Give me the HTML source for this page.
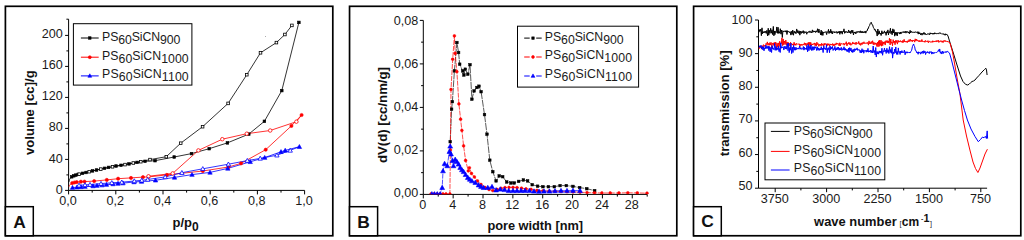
<!DOCTYPE html>
<html><head><meta charset="utf-8"><title>Figure</title>
<style>html,body{margin:0;padding:0;background:#fff;overflow:hidden}svg{display:block}text{font-family:'Liberation Sans', sans-serif}</style>
</head><body>
<svg width="1024" height="240" viewBox="0 0 1024 240">
<rect x="0" y="0" width="1024" height="240" fill="#fff"/>
<rect x="5.4" y="6.3" width="327.4" height="229.45" fill="#fff" stroke="#000" stroke-width="1.7"/>
<rect x="5.4" y="206.7" width="27.9" height="29.05" fill="#fff" stroke="#000" stroke-width="1.5"/>
<text x="19.5" y="227.5" font-size="17.4" text-anchor="middle" font-weight="bold" fill="#111" >A</text>
<line x1="68.6" y1="19.2" x2="68.6" y2="190.4" stroke="#000" stroke-width="1" />
<line x1="68.6" y1="190.4" x2="304.6" y2="190.4" stroke="#000" stroke-width="1" />
<line x1="65.1" y1="190.4" x2="68.6" y2="190.4" stroke="#000" stroke-width="1" />
<text x="62.7" y="193.72" font-size="12.6" text-anchor="end" font-weight="normal" fill="#1a1a1a" >0</text>
<line x1="66.4" y1="174.9" x2="68.6" y2="174.9" stroke="#000" stroke-width="1" />
<line x1="65.1" y1="159.4" x2="68.6" y2="159.4" stroke="#000" stroke-width="1" />
<text x="62.7" y="162.5" font-size="12.6" text-anchor="end" font-weight="normal" fill="#1a1a1a" >40</text>
<line x1="66.4" y1="143.9" x2="68.6" y2="143.9" stroke="#000" stroke-width="1" />
<line x1="65.1" y1="128.4" x2="68.6" y2="128.4" stroke="#000" stroke-width="1" />
<text x="62.7" y="131.27" font-size="12.6" text-anchor="end" font-weight="normal" fill="#1a1a1a" >80</text>
<line x1="66.4" y1="112.9" x2="68.6" y2="112.9" stroke="#000" stroke-width="1" />
<line x1="65.1" y1="97.4" x2="68.6" y2="97.4" stroke="#000" stroke-width="1" />
<text x="62.7" y="100.05" font-size="12.6" text-anchor="end" font-weight="normal" fill="#1a1a1a" >120</text>
<line x1="66.4" y1="81.9" x2="68.6" y2="81.9" stroke="#000" stroke-width="1" />
<line x1="65.1" y1="66.4" x2="68.6" y2="66.4" stroke="#000" stroke-width="1" />
<text x="62.7" y="68.82" font-size="12.6" text-anchor="end" font-weight="normal" fill="#1a1a1a" >160</text>
<line x1="66.4" y1="50.9" x2="68.6" y2="50.9" stroke="#000" stroke-width="1" />
<line x1="65.1" y1="35.4" x2="68.6" y2="35.4" stroke="#000" stroke-width="1" />
<text x="62.7" y="37.6" font-size="12.6" text-anchor="end" font-weight="normal" fill="#1a1a1a" >200</text>
<line x1="66.4" y1="19.2" x2="68.6" y2="19.2" stroke="#000" stroke-width="1" />
<line x1="68.6" y1="190.4" x2="68.6" y2="194.4" stroke="#000" stroke-width="1" />
<text x="68" y="204.7" font-size="12.6" text-anchor="middle" font-weight="normal" fill="#1a1a1a" >0,0</text>
<line x1="92.2" y1="190.4" x2="92.2" y2="192.6" stroke="#000" stroke-width="1" />
<line x1="115.8" y1="190.4" x2="115.8" y2="194.4" stroke="#000" stroke-width="1" />
<text x="115.2" y="204.7" font-size="12.6" text-anchor="middle" font-weight="normal" fill="#1a1a1a" >0,2</text>
<line x1="139.4" y1="190.4" x2="139.4" y2="192.6" stroke="#000" stroke-width="1" />
<line x1="163" y1="190.4" x2="163" y2="194.4" stroke="#000" stroke-width="1" />
<text x="162.4" y="204.7" font-size="12.6" text-anchor="middle" font-weight="normal" fill="#1a1a1a" >0,4</text>
<line x1="186.6" y1="190.4" x2="186.6" y2="192.6" stroke="#000" stroke-width="1" />
<line x1="210.2" y1="190.4" x2="210.2" y2="194.4" stroke="#000" stroke-width="1" />
<text x="209.6" y="204.7" font-size="12.6" text-anchor="middle" font-weight="normal" fill="#1a1a1a" >0,6</text>
<line x1="233.8" y1="190.4" x2="233.8" y2="192.6" stroke="#000" stroke-width="1" />
<line x1="257.4" y1="190.4" x2="257.4" y2="194.4" stroke="#000" stroke-width="1" />
<text x="256.8" y="204.7" font-size="12.6" text-anchor="middle" font-weight="normal" fill="#1a1a1a" >0,8</text>
<line x1="281" y1="190.4" x2="281" y2="192.6" stroke="#000" stroke-width="1" />
<line x1="304.6" y1="190.4" x2="304.6" y2="194.4" stroke="#000" stroke-width="1" />
<text x="304" y="204.7" font-size="12.6" text-anchor="middle" font-weight="normal" fill="#1a1a1a" >1,0</text>
<text x="172.5" y="226.7" font-size="13" font-weight="bold" fill="#111">p/p<tspan dy="3.9" font-size="12">0</tspan></text>
<text transform="translate(34.3,155.1) rotate(-90)" font-size="13.1" font-weight="bold" fill="#111" textLength="84.8" lengthAdjust="spacing">volume [cc]/g</text>
<polyline points="69,181.9 69.4,179.9 70.2,178.2 71.7,176.8 73.8,175.8 75.9,175.1 78.2,174.4 82.5,173.3 86,172.5 92.5,170.9 96.5,170 104.5,168.3 108.5,167.4 116,166 121,165.3 129,163.9 137,162.4 145,161.3 155,160.7 174.2,157 191.5,153.6 209.2,148.7 227.4,142.9 248.8,134.1 264.4,121.3 281.8,90.6 298.9,22.4" fill="none" stroke="#000" stroke-width="0.8" stroke-linejoin="round" />
<polyline points="291.9,25.4 284.9,34.5 276.4,42.6 260.5,52.8 246.8,74.7 228.1,103.4 202.6,126.7 180.7,143.2 166.3,156.7 150,159.6 140.8,161.7 133.3,163 125,164.6 112.5,166.8 100.8,169.1 89.2,171.7 79.2,174.2" fill="none" stroke="#000" stroke-width="0.8" stroke-linejoin="round" />
<polyline points="69,186.7 69.6,185.3 70.6,184.1 72.2,183.1 74.5,182.5 76.7,182.1 80.9,181.7 84.5,181.6 94.2,181.1 106.8,179.9 118.1,178.7 131,177.9 143,177.1 148.5,176.9 166.9,174.9 202.8,171.03 228.4,167 241,163.4 265.7,149.7 291.4,125.9 301.6,115" fill="none" stroke="#ff0000" stroke-width="0.8" stroke-linejoin="round" />
<polyline points="301.6,115 296.4,121.7 270.2,130.5 246.8,133.7 222.3,139.2 198.4,150.4 172.7,173.4 148.5,176.27" fill="none" stroke="#ff0000" stroke-width="0.8" stroke-linejoin="round" />
<polyline points="72.5,187.6 77,187.2 81,186.9 85,186.6 93,186 97,185.6 102,185.1 106.5,184.6 113,184 118,183.5 123,183.1 134,182 141.5,181.5 155.5,180.26 174.5,177.39 192,174.6 210,172.4 227.8,168.4 250.2,161.8 264.7,157.6 281,151.8 285.2,150.4 299.4,146.7" fill="none" stroke="#0000ff" stroke-width="0.8" stroke-linejoin="round" />
<polyline points="299.4,146.7 290.2,150.4 276.9,155.2 260.2,158.4 247.3,160.6 228.4,164.2 202.8,168.8 181.9,172.7 165.2,176.92 147.7,179.5 141.8,180.3 134.3,181 121.8,182.2 111.8,182.8 101,183.6 90,184.6 85,184.9 79,185.3" fill="none" stroke="#0000ff" stroke-width="0.8" stroke-linejoin="round" />
<rect x="70.4" y="175.5" width="2.6" height="2.6" fill="#000" stroke="#000" stroke-width="0.6"/>
<rect x="72.5" y="174.5" width="2.6" height="2.6" fill="#000" stroke="#000" stroke-width="0.6"/>
<rect x="74.6" y="173.8" width="2.6" height="2.6" fill="#000" stroke="#000" stroke-width="0.6"/>
<rect x="76.9" y="173.1" width="2.6" height="2.6" fill="#000" stroke="#000" stroke-width="0.6"/>
<rect x="81.2" y="172" width="2.6" height="2.6" fill="#000" stroke="#000" stroke-width="0.6"/>
<rect x="84.7" y="171.2" width="2.6" height="2.6" fill="#000" stroke="#000" stroke-width="0.6"/>
<rect x="91.2" y="169.6" width="2.6" height="2.6" fill="#000" stroke="#000" stroke-width="0.6"/>
<rect x="95.2" y="168.7" width="2.6" height="2.6" fill="#000" stroke="#000" stroke-width="0.6"/>
<rect x="103.2" y="167" width="2.6" height="2.6" fill="#000" stroke="#000" stroke-width="0.6"/>
<rect x="107.2" y="166.1" width="2.6" height="2.6" fill="#000" stroke="#000" stroke-width="0.6"/>
<rect x="114.7" y="164.7" width="2.6" height="2.6" fill="#000" stroke="#000" stroke-width="0.6"/>
<rect x="119.7" y="164" width="2.6" height="2.6" fill="#000" stroke="#000" stroke-width="0.6"/>
<rect x="127.7" y="162.6" width="2.6" height="2.6" fill="#000" stroke="#000" stroke-width="0.6"/>
<rect x="135.7" y="161.1" width="2.6" height="2.6" fill="#000" stroke="#000" stroke-width="0.6"/>
<rect x="143.7" y="160" width="2.6" height="2.6" fill="#000" stroke="#000" stroke-width="0.6"/>
<rect x="153.7" y="159.4" width="2.6" height="2.6" fill="#000" stroke="#000" stroke-width="0.6"/>
<rect x="172.9" y="155.7" width="2.6" height="2.6" fill="#000" stroke="#000" stroke-width="0.6"/>
<rect x="190.2" y="152.3" width="2.6" height="2.6" fill="#000" stroke="#000" stroke-width="0.6"/>
<rect x="207.9" y="147.4" width="2.6" height="2.6" fill="#000" stroke="#000" stroke-width="0.6"/>
<rect x="226.1" y="141.6" width="2.6" height="2.6" fill="#000" stroke="#000" stroke-width="0.6"/>
<rect x="247.5" y="132.8" width="2.6" height="2.6" fill="#000" stroke="#000" stroke-width="0.6"/>
<rect x="263.1" y="120" width="2.6" height="2.6" fill="#000" stroke="#000" stroke-width="0.6"/>
<rect x="280.5" y="89.3" width="2.6" height="2.6" fill="#000" stroke="#000" stroke-width="0.6"/>
<rect x="297.6" y="21.1" width="2.6" height="2.6" fill="#000" stroke="#000" stroke-width="0.6"/>
<rect x="290.6" y="24.1" width="2.6" height="2.6" fill="#fff" stroke="#000" stroke-width="0.8"/>
<rect x="283.6" y="33.2" width="2.6" height="2.6" fill="#fff" stroke="#000" stroke-width="0.8"/>
<rect x="275.1" y="41.3" width="2.6" height="2.6" fill="#fff" stroke="#000" stroke-width="0.8"/>
<rect x="259.2" y="51.5" width="2.6" height="2.6" fill="#fff" stroke="#000" stroke-width="0.8"/>
<rect x="245.5" y="73.4" width="2.6" height="2.6" fill="#fff" stroke="#000" stroke-width="0.8"/>
<rect x="226.8" y="102.1" width="2.6" height="2.6" fill="#fff" stroke="#000" stroke-width="0.8"/>
<rect x="201.3" y="125.4" width="2.6" height="2.6" fill="#fff" stroke="#000" stroke-width="0.8"/>
<rect x="179.4" y="141.9" width="2.6" height="2.6" fill="#fff" stroke="#000" stroke-width="0.8"/>
<rect x="165" y="155.4" width="2.6" height="2.6" fill="#fff" stroke="#000" stroke-width="0.8"/>
<rect x="148.7" y="158.3" width="2.6" height="2.6" fill="#fff" stroke="#000" stroke-width="0.8"/>
<rect x="139.5" y="160.4" width="2.6" height="2.6" fill="#fff" stroke="#000" stroke-width="0.8"/>
<rect x="132" y="161.7" width="2.6" height="2.6" fill="#fff" stroke="#000" stroke-width="0.8"/>
<rect x="123.7" y="163.3" width="2.6" height="2.6" fill="#fff" stroke="#000" stroke-width="0.8"/>
<rect x="111.2" y="165.5" width="2.6" height="2.6" fill="#fff" stroke="#000" stroke-width="0.8"/>
<rect x="99.5" y="167.8" width="2.6" height="2.6" fill="#fff" stroke="#000" stroke-width="0.8"/>
<rect x="87.9" y="170.4" width="2.6" height="2.6" fill="#fff" stroke="#000" stroke-width="0.8"/>
<rect x="77.9" y="172.9" width="2.6" height="2.6" fill="#fff" stroke="#000" stroke-width="0.8"/>
<circle cx="72.2" cy="183.1" r="1.6" fill="#ff0000" stroke="#ff0000" stroke-width="0.6"/>
<circle cx="74.5" cy="182.5" r="1.6" fill="#ff0000" stroke="#ff0000" stroke-width="0.6"/>
<circle cx="76.7" cy="182.1" r="1.6" fill="#ff0000" stroke="#ff0000" stroke-width="0.6"/>
<circle cx="80.9" cy="181.7" r="1.6" fill="#ff0000" stroke="#ff0000" stroke-width="0.6"/>
<circle cx="84.5" cy="181.6" r="1.6" fill="#ff0000" stroke="#ff0000" stroke-width="0.6"/>
<circle cx="94.2" cy="181.1" r="1.6" fill="#ff0000" stroke="#ff0000" stroke-width="0.6"/>
<circle cx="106.8" cy="179.9" r="1.6" fill="#ff0000" stroke="#ff0000" stroke-width="0.6"/>
<circle cx="118.1" cy="178.7" r="1.6" fill="#ff0000" stroke="#ff0000" stroke-width="0.6"/>
<circle cx="131" cy="177.9" r="1.6" fill="#ff0000" stroke="#ff0000" stroke-width="0.6"/>
<circle cx="143" cy="177.1" r="1.6" fill="#ff0000" stroke="#ff0000" stroke-width="0.6"/>
<circle cx="148.5" cy="176.9" r="1.6" fill="#ff0000" stroke="#ff0000" stroke-width="0.6"/>
<circle cx="166.9" cy="174.9" r="1.6" fill="#ff0000" stroke="#ff0000" stroke-width="0.6"/>
<circle cx="202.8" cy="171.03" r="1.6" fill="#ff0000" stroke="#ff0000" stroke-width="0.6"/>
<circle cx="228.4" cy="167" r="1.6" fill="#ff0000" stroke="#ff0000" stroke-width="0.6"/>
<circle cx="241" cy="163.4" r="1.6" fill="#ff0000" stroke="#ff0000" stroke-width="0.6"/>
<circle cx="265.7" cy="149.7" r="1.6" fill="#ff0000" stroke="#ff0000" stroke-width="0.6"/>
<circle cx="291.4" cy="125.9" r="1.6" fill="#ff0000" stroke="#ff0000" stroke-width="0.6"/>
<circle cx="301.6" cy="115" r="1.6" fill="#ff0000" stroke="#ff0000" stroke-width="0.6"/>
<circle cx="296.4" cy="121.7" r="1.75" fill="#fff" stroke="#ff0000" stroke-width="0.8"/>
<circle cx="270.2" cy="130.5" r="1.75" fill="#fff" stroke="#ff0000" stroke-width="0.8"/>
<circle cx="246.8" cy="133.7" r="1.75" fill="#fff" stroke="#ff0000" stroke-width="0.8"/>
<circle cx="222.3" cy="139.2" r="1.75" fill="#fff" stroke="#ff0000" stroke-width="0.8"/>
<circle cx="198.4" cy="150.4" r="1.75" fill="#fff" stroke="#ff0000" stroke-width="0.8"/>
<circle cx="172.7" cy="173.4" r="1.75" fill="#fff" stroke="#ff0000" stroke-width="0.8"/>
<circle cx="148.5" cy="176.27" r="1.75" fill="#fff" stroke="#ff0000" stroke-width="0.8"/>
<polygon points="72.5,185.4 70.3,189.36 74.7,189.36" fill="#0000ff" stroke="#0000ff" stroke-width="0.6"/>
<polygon points="77,185 74.8,188.96 79.2,188.96" fill="#0000ff" stroke="#0000ff" stroke-width="0.6"/>
<polygon points="81,184.7 78.8,188.66 83.2,188.66" fill="#0000ff" stroke="#0000ff" stroke-width="0.6"/>
<polygon points="85,184.4 82.8,188.36 87.2,188.36" fill="#0000ff" stroke="#0000ff" stroke-width="0.6"/>
<polygon points="93,183.8 90.8,187.76 95.2,187.76" fill="#0000ff" stroke="#0000ff" stroke-width="0.6"/>
<polygon points="97,183.4 94.8,187.36 99.2,187.36" fill="#0000ff" stroke="#0000ff" stroke-width="0.6"/>
<polygon points="102,182.9 99.8,186.86 104.2,186.86" fill="#0000ff" stroke="#0000ff" stroke-width="0.6"/>
<polygon points="106.5,182.4 104.3,186.36 108.7,186.36" fill="#0000ff" stroke="#0000ff" stroke-width="0.6"/>
<polygon points="113,181.8 110.8,185.76 115.2,185.76" fill="#0000ff" stroke="#0000ff" stroke-width="0.6"/>
<polygon points="118,181.3 115.8,185.26 120.2,185.26" fill="#0000ff" stroke="#0000ff" stroke-width="0.6"/>
<polygon points="123,180.9 120.8,184.86 125.2,184.86" fill="#0000ff" stroke="#0000ff" stroke-width="0.6"/>
<polygon points="134,179.8 131.8,183.76 136.2,183.76" fill="#0000ff" stroke="#0000ff" stroke-width="0.6"/>
<polygon points="141.5,179.3 139.3,183.26 143.7,183.26" fill="#0000ff" stroke="#0000ff" stroke-width="0.6"/>
<polygon points="155.5,178.06 153.3,182.02 157.7,182.02" fill="#0000ff" stroke="#0000ff" stroke-width="0.6"/>
<polygon points="174.5,175.19 172.3,179.15 176.7,179.15" fill="#0000ff" stroke="#0000ff" stroke-width="0.6"/>
<polygon points="192,172.4 189.8,176.36 194.2,176.36" fill="#0000ff" stroke="#0000ff" stroke-width="0.6"/>
<polygon points="210,170.2 207.8,174.16 212.2,174.16" fill="#0000ff" stroke="#0000ff" stroke-width="0.6"/>
<polygon points="227.8,166.2 225.6,170.16 230,170.16" fill="#0000ff" stroke="#0000ff" stroke-width="0.6"/>
<polygon points="250.2,159.6 248,163.56 252.4,163.56" fill="#0000ff" stroke="#0000ff" stroke-width="0.6"/>
<polygon points="264.7,155.4 262.5,159.36 266.9,159.36" fill="#0000ff" stroke="#0000ff" stroke-width="0.6"/>
<polygon points="281,149.6 278.8,153.56 283.2,153.56" fill="#0000ff" stroke="#0000ff" stroke-width="0.6"/>
<polygon points="285.2,148.2 283,152.16 287.4,152.16" fill="#0000ff" stroke="#0000ff" stroke-width="0.6"/>
<polygon points="299.4,144.5 297.2,148.46 301.6,148.46" fill="#0000ff" stroke="#0000ff" stroke-width="0.6"/>
<polygon points="290.2,148.2 288,152.16 292.4,152.16" fill="#fff" stroke="#0000ff" stroke-width="0.8"/>
<polygon points="276.9,153 274.7,156.96 279.1,156.96" fill="#fff" stroke="#0000ff" stroke-width="0.8"/>
<polygon points="260.2,156.2 258,160.16 262.4,160.16" fill="#fff" stroke="#0000ff" stroke-width="0.8"/>
<polygon points="247.3,158.4 245.1,162.36 249.5,162.36" fill="#fff" stroke="#0000ff" stroke-width="0.8"/>
<polygon points="228.4,162 226.2,165.96 230.6,165.96" fill="#fff" stroke="#0000ff" stroke-width="0.8"/>
<polygon points="202.8,166.6 200.6,170.56 205,170.56" fill="#fff" stroke="#0000ff" stroke-width="0.8"/>
<polygon points="181.9,170.5 179.7,174.46 184.1,174.46" fill="#fff" stroke="#0000ff" stroke-width="0.8"/>
<polygon points="165.2,174.72 163,178.68 167.4,178.68" fill="#fff" stroke="#0000ff" stroke-width="0.8"/>
<polygon points="147.7,177.3 145.5,181.26 149.9,181.26" fill="#fff" stroke="#0000ff" stroke-width="0.8"/>
<polygon points="141.8,178.1 139.6,182.06 144,182.06" fill="#fff" stroke="#0000ff" stroke-width="0.8"/>
<polygon points="134.3,178.8 132.1,182.76 136.5,182.76" fill="#fff" stroke="#0000ff" stroke-width="0.8"/>
<polygon points="121.8,180 119.6,183.96 124,183.96" fill="#fff" stroke="#0000ff" stroke-width="0.8"/>
<polygon points="111.8,180.6 109.6,184.56 114,184.56" fill="#fff" stroke="#0000ff" stroke-width="0.8"/>
<polygon points="101,181.4 98.8,185.36 103.2,185.36" fill="#fff" stroke="#0000ff" stroke-width="0.8"/>
<polygon points="90,182.4 87.8,186.36 92.2,186.36" fill="#fff" stroke="#0000ff" stroke-width="0.8"/>
<polygon points="85,182.7 82.8,186.66 87.2,186.66" fill="#fff" stroke="#0000ff" stroke-width="0.8"/>
<polygon points="79,183.1 76.8,187.06 81.2,187.06" fill="#fff" stroke="#0000ff" stroke-width="0.8"/>
<rect x="265" y="36" width="0.9" height="0.9" fill="#999"/>
<rect x="73.4" y="23.7" width="118.5" height="61.4" fill="#fff" stroke="#000" stroke-width="1"/>
<line x1="80.9" y1="38" x2="98.7" y2="38" stroke="#000" stroke-width="1" />
<rect x="88.55" y="36.75" width="2.5" height="2.5" fill="#000" stroke="#000" stroke-width="0.6"/>
<text x="102.1" y="40.7" font-size="12.3" fill="#1a1a1a" textLength="78.2" lengthAdjust="spacing">PS<tspan dy="3.1">60</tspan><tspan dy="-3.1">SiCN</tspan><tspan dy="3.1">900</tspan></text>
<line x1="80.9" y1="57.2" x2="98.7" y2="57.2" stroke="#ff0000" stroke-width="1" />
<circle cx="89.8" cy="57.2" r="1.5" fill="#ff0000" stroke="#ff0000" stroke-width="0.6"/>
<text x="102.1" y="59.9" font-size="12.3" fill="#1a1a1a" textLength="86.6" lengthAdjust="spacing">PS<tspan dy="3.1">60</tspan><tspan dy="-3.1">SiCN</tspan><tspan dy="3.1">1000</tspan></text>
<line x1="80.9" y1="75.9" x2="98.7" y2="75.9" stroke="#0000ff" stroke-width="1" />
<polygon points="89.8,73.8 87.9,77.22 91.7,77.22" fill="#0000ff" stroke="#0000ff" stroke-width="0.6"/>
<text x="102.1" y="78.3" font-size="12.3" fill="#1a1a1a" textLength="86.6" lengthAdjust="spacing">PS<tspan dy="3.1">60</tspan><tspan dy="-3.1">SiCN</tspan><tspan dy="3.1">1100</tspan></text>
<rect x="349.55" y="6.3" width="327.25" height="229.45" fill="#fff" stroke="#000" stroke-width="1.7"/>
<rect x="349.55" y="206.7" width="28.05" height="29.05" fill="#fff" stroke="#000" stroke-width="1.5"/>
<text x="363.6" y="227.5" font-size="17.4" text-anchor="middle" font-weight="bold" fill="#111" >B</text>
<line x1="423.3" y1="20.4" x2="423.3" y2="194.4" stroke="#000" stroke-width="1" />
<line x1="423.3" y1="194.4" x2="647.3" y2="194.4" stroke="#000" stroke-width="1" />
<line x1="419.8" y1="194.4" x2="423.3" y2="194.4" stroke="#000" stroke-width="1" />
<text x="418.3" y="196.7" font-size="12.6" text-anchor="end" font-weight="normal" fill="#1a1a1a" >0,00</text>
<line x1="421.1" y1="172.65" x2="423.3" y2="172.65" stroke="#000" stroke-width="1" />
<line x1="419.8" y1="150.9" x2="423.3" y2="150.9" stroke="#000" stroke-width="1" />
<text x="418.3" y="153.65" font-size="12.6" text-anchor="end" font-weight="normal" fill="#1a1a1a" >0,02</text>
<line x1="421.1" y1="129.15" x2="423.3" y2="129.15" stroke="#000" stroke-width="1" />
<line x1="419.8" y1="107.4" x2="423.3" y2="107.4" stroke="#000" stroke-width="1" />
<text x="418.3" y="110.6" font-size="12.6" text-anchor="end" font-weight="normal" fill="#1a1a1a" >0,04</text>
<line x1="421.1" y1="85.65" x2="423.3" y2="85.65" stroke="#000" stroke-width="1" />
<line x1="419.8" y1="63.9" x2="423.3" y2="63.9" stroke="#000" stroke-width="1" />
<text x="418.3" y="67.55" font-size="12.6" text-anchor="end" font-weight="normal" fill="#1a1a1a" >0,06</text>
<line x1="421.1" y1="42.15" x2="423.3" y2="42.15" stroke="#000" stroke-width="1" />
<line x1="419.8" y1="20.4" x2="423.3" y2="20.4" stroke="#000" stroke-width="1" />
<text x="418.3" y="24.5" font-size="12.6" text-anchor="end" font-weight="normal" fill="#1a1a1a" >0,08</text>
<line x1="423.3" y1="194.4" x2="423.3" y2="198.4" stroke="#000" stroke-width="1" />
<text x="422.8" y="208.7" font-size="12.6" text-anchor="middle" font-weight="normal" fill="#1a1a1a" >0</text>
<line x1="438.23" y1="194.4" x2="438.23" y2="196.6" stroke="#000" stroke-width="1" />
<line x1="453.15" y1="194.4" x2="453.15" y2="198.4" stroke="#000" stroke-width="1" />
<text x="452.65" y="208.7" font-size="12.6" text-anchor="middle" font-weight="normal" fill="#1a1a1a" >4</text>
<line x1="468.08" y1="194.4" x2="468.08" y2="196.6" stroke="#000" stroke-width="1" />
<line x1="483" y1="194.4" x2="483" y2="198.4" stroke="#000" stroke-width="1" />
<text x="482.5" y="208.7" font-size="12.6" text-anchor="middle" font-weight="normal" fill="#1a1a1a" >8</text>
<line x1="497.93" y1="194.4" x2="497.93" y2="196.6" stroke="#000" stroke-width="1" />
<line x1="512.86" y1="194.4" x2="512.86" y2="198.4" stroke="#000" stroke-width="1" />
<text x="512.36" y="208.7" font-size="12.6" text-anchor="middle" font-weight="normal" fill="#1a1a1a" >12</text>
<line x1="527.78" y1="194.4" x2="527.78" y2="196.6" stroke="#000" stroke-width="1" />
<line x1="542.71" y1="194.4" x2="542.71" y2="198.4" stroke="#000" stroke-width="1" />
<text x="542.21" y="208.7" font-size="12.6" text-anchor="middle" font-weight="normal" fill="#1a1a1a" >16</text>
<line x1="557.63" y1="194.4" x2="557.63" y2="196.6" stroke="#000" stroke-width="1" />
<line x1="572.56" y1="194.4" x2="572.56" y2="198.4" stroke="#000" stroke-width="1" />
<text x="572.06" y="208.7" font-size="12.6" text-anchor="middle" font-weight="normal" fill="#1a1a1a" >20</text>
<line x1="587.49" y1="194.4" x2="587.49" y2="196.6" stroke="#000" stroke-width="1" />
<line x1="602.41" y1="194.4" x2="602.41" y2="198.4" stroke="#000" stroke-width="1" />
<text x="601.91" y="208.7" font-size="12.6" text-anchor="middle" font-weight="normal" fill="#1a1a1a" >24</text>
<line x1="617.34" y1="194.4" x2="617.34" y2="196.6" stroke="#000" stroke-width="1" />
<line x1="632.26" y1="194.4" x2="632.26" y2="198.4" stroke="#000" stroke-width="1" />
<text x="631.76" y="208.7" font-size="12.6" text-anchor="middle" font-weight="normal" fill="#1a1a1a" >28</text>
<line x1="647.19" y1="194.4" x2="647.19" y2="196.6" stroke="#000" stroke-width="1" />
<text x="487.4" y="229.8" font-size="12.8" font-weight="bold" fill="#111" textLength="95.7" lengthAdjust="spacing">pore width [nm]</text>
<text transform="translate(387.3,163) rotate(-90)" font-size="13.2" font-weight="bold" fill="#111" textLength="96" lengthAdjust="spacing">dV(d) [cc/nm/g]</text>
<clipPath id="clipB"><rect x="423.3" y="10" width="230" height="184.3"/></clipPath><g clip-path="url(#clipB)">
<polyline points="450.2,141.7 451.6,109.2 452.4,101.7 454.4,70.9 456.9,42.5 458.6,52.5 459.7,64.2 462.7,70.9 463.9,75 465.3,69.2 467.8,74.2 470,64.7 471.9,99.2 474.1,90.9 477,87.5 479,86.2 481.1,91.7 484.5,114.6 487,134.2 489.8,160.2 492.8,171.7 496.1,180.9 499.2,175.9 502.7,176.7 506.7,182 510.9,183 514.2,183 518.7,181.4 523.4,180 527.6,180.9 532.2,184.7 537.6,186.2 542.9,186.7 548.4,186.7 554.3,186.7 560.1,185.6 566.3,185.6 573,186.4 579.7,187.6 586.8,188.7 594.7,190.6" fill="none" stroke="#111" stroke-width="0.7" stroke-linejoin="round" stroke-dasharray="7 0.8"/>
<polyline points="431,194 434,194 437,194 440,194 443,194 446,194 449.9,194 450.4,150 451,89.5 452.7,59.2 454.4,35.9 455.2,53.4 456.9,71.7 458.9,103.9 460.6,119.2 461.9,130.4 463.6,145.9 465.6,160.5 468.3,170.9 469.4,167.8 471.5,173.5 474.4,177 477.5,181 481,184.5 485,187.5 489,189.5 492.8,190.6 497,189.5 501,188.3 505,187.6 509,187.4 513,187.4 517,187.6 521.5,188.2 526,188.8 531,189.4 537,190.4 543,190.8 549,191.2 555,191.3 561,191.5 567,191.7 573,191.9 580,192.2 587,192.6 594.5,192.8 601.9,193 610.2,193 618.9,193 627.8,192.8 637.3,192.9 647,193.2" fill="none" stroke="#ff0000" stroke-width="0.7" stroke-linejoin="round" stroke-dasharray="5 1"/>
<polyline points="431.9,194 434.5,194 437.3,194 440.2,194 442.2,187.6 443,170.9 444.6,163.6 447.3,165.8 449.4,151.5 450.2,146.2 451,154 452.5,160.6 453.5,165.8 455.2,159.4 456.9,161.7 458.6,164.2 460.2,167.5 461.9,169.8 463.6,171.7 465.6,174.6 467.8,177.5 469.8,179.3 471.9,180.9 475.3,182.5 478.6,185 481,186.5 483.6,187.6 487.8,187.6 492,186.7 496.1,190 500.3,189.2 504.5,189.7 508.7,190.7 513,190.7 517,190.7 521,190.5 525,190.5 529.5,190.7 534,191.2 539,191.4 544,191.2 549.5,191.2 555,190.8 561,190.7 567,190.7 573,190.5 580,190.7" fill="none" stroke="#0000ff" stroke-width="0.7" stroke-linejoin="round" stroke-dasharray="5 1"/>
<rect x="448.9" y="140.4" width="2.6" height="2.6" fill="#000" stroke="#000" stroke-width="0.5"/>
<rect x="450.3" y="107.9" width="2.6" height="2.6" fill="#000" stroke="#000" stroke-width="0.5"/>
<rect x="451.1" y="100.4" width="2.6" height="2.6" fill="#000" stroke="#000" stroke-width="0.5"/>
<rect x="453.1" y="69.6" width="2.6" height="2.6" fill="#000" stroke="#000" stroke-width="0.5"/>
<rect x="455.6" y="41.2" width="2.6" height="2.6" fill="#000" stroke="#000" stroke-width="0.5"/>
<rect x="457.3" y="51.2" width="2.6" height="2.6" fill="#000" stroke="#000" stroke-width="0.5"/>
<rect x="458.4" y="62.9" width="2.6" height="2.6" fill="#000" stroke="#000" stroke-width="0.5"/>
<rect x="461.4" y="69.6" width="2.6" height="2.6" fill="#000" stroke="#000" stroke-width="0.5"/>
<rect x="462.6" y="73.7" width="2.6" height="2.6" fill="#000" stroke="#000" stroke-width="0.5"/>
<rect x="464" y="67.9" width="2.6" height="2.6" fill="#000" stroke="#000" stroke-width="0.5"/>
<rect x="466.5" y="72.9" width="2.6" height="2.6" fill="#000" stroke="#000" stroke-width="0.5"/>
<rect x="468.7" y="63.4" width="2.6" height="2.6" fill="#000" stroke="#000" stroke-width="0.5"/>
<rect x="470.6" y="97.9" width="2.6" height="2.6" fill="#000" stroke="#000" stroke-width="0.5"/>
<rect x="472.8" y="89.6" width="2.6" height="2.6" fill="#000" stroke="#000" stroke-width="0.5"/>
<rect x="475.7" y="86.2" width="2.6" height="2.6" fill="#000" stroke="#000" stroke-width="0.5"/>
<rect x="477.7" y="84.9" width="2.6" height="2.6" fill="#000" stroke="#000" stroke-width="0.5"/>
<rect x="479.8" y="90.4" width="2.6" height="2.6" fill="#000" stroke="#000" stroke-width="0.5"/>
<rect x="483.2" y="113.3" width="2.6" height="2.6" fill="#000" stroke="#000" stroke-width="0.5"/>
<rect x="485.7" y="132.9" width="2.6" height="2.6" fill="#000" stroke="#000" stroke-width="0.5"/>
<rect x="488.5" y="158.9" width="2.6" height="2.6" fill="#000" stroke="#000" stroke-width="0.5"/>
<rect x="491.5" y="170.4" width="2.6" height="2.6" fill="#000" stroke="#000" stroke-width="0.5"/>
<rect x="494.8" y="179.6" width="2.6" height="2.6" fill="#000" stroke="#000" stroke-width="0.5"/>
<rect x="497.9" y="174.6" width="2.6" height="2.6" fill="#000" stroke="#000" stroke-width="0.5"/>
<rect x="501.4" y="175.4" width="2.6" height="2.6" fill="#000" stroke="#000" stroke-width="0.5"/>
<rect x="505.4" y="180.7" width="2.6" height="2.6" fill="#000" stroke="#000" stroke-width="0.5"/>
<rect x="509.6" y="181.7" width="2.6" height="2.6" fill="#000" stroke="#000" stroke-width="0.5"/>
<rect x="512.9" y="181.7" width="2.6" height="2.6" fill="#000" stroke="#000" stroke-width="0.5"/>
<rect x="517.4" y="180.1" width="2.6" height="2.6" fill="#000" stroke="#000" stroke-width="0.5"/>
<rect x="522.1" y="178.7" width="2.6" height="2.6" fill="#000" stroke="#000" stroke-width="0.5"/>
<rect x="526.3" y="179.6" width="2.6" height="2.6" fill="#000" stroke="#000" stroke-width="0.5"/>
<rect x="530.9" y="183.4" width="2.6" height="2.6" fill="#000" stroke="#000" stroke-width="0.5"/>
<rect x="536.3" y="184.9" width="2.6" height="2.6" fill="#000" stroke="#000" stroke-width="0.5"/>
<rect x="541.6" y="185.4" width="2.6" height="2.6" fill="#000" stroke="#000" stroke-width="0.5"/>
<rect x="547.1" y="185.4" width="2.6" height="2.6" fill="#000" stroke="#000" stroke-width="0.5"/>
<rect x="553" y="185.4" width="2.6" height="2.6" fill="#000" stroke="#000" stroke-width="0.5"/>
<rect x="558.8" y="184.3" width="2.6" height="2.6" fill="#000" stroke="#000" stroke-width="0.5"/>
<rect x="565" y="184.3" width="2.6" height="2.6" fill="#000" stroke="#000" stroke-width="0.5"/>
<rect x="571.7" y="185.1" width="2.6" height="2.6" fill="#000" stroke="#000" stroke-width="0.5"/>
<rect x="578.4" y="186.3" width="2.6" height="2.6" fill="#000" stroke="#000" stroke-width="0.5"/>
<rect x="585.5" y="187.4" width="2.6" height="2.6" fill="#000" stroke="#000" stroke-width="0.5"/>
<rect x="593.4" y="189.3" width="2.6" height="2.6" fill="#000" stroke="#000" stroke-width="0.5"/>
<circle cx="431" cy="194" r="1.4" fill="#ff0000" stroke="#ff0000" stroke-width="0.5"/>
<circle cx="434" cy="194" r="1.4" fill="#ff0000" stroke="#ff0000" stroke-width="0.5"/>
<circle cx="437" cy="194" r="1.4" fill="#ff0000" stroke="#ff0000" stroke-width="0.5"/>
<circle cx="440" cy="194" r="1.4" fill="#ff0000" stroke="#ff0000" stroke-width="0.5"/>
<circle cx="443" cy="194" r="1.4" fill="#ff0000" stroke="#ff0000" stroke-width="0.5"/>
<circle cx="446" cy="194" r="1.4" fill="#ff0000" stroke="#ff0000" stroke-width="0.5"/>
<circle cx="449.9" cy="194" r="1.4" fill="#ff0000" stroke="#ff0000" stroke-width="0.5"/>
<circle cx="450.4" cy="150" r="1.4" fill="#ff0000" stroke="#ff0000" stroke-width="0.5"/>
<circle cx="451" cy="89.5" r="1.4" fill="#ff0000" stroke="#ff0000" stroke-width="0.5"/>
<circle cx="452.7" cy="59.2" r="1.4" fill="#ff0000" stroke="#ff0000" stroke-width="0.5"/>
<circle cx="454.4" cy="35.9" r="1.4" fill="#ff0000" stroke="#ff0000" stroke-width="0.5"/>
<circle cx="455.2" cy="53.4" r="1.4" fill="#ff0000" stroke="#ff0000" stroke-width="0.5"/>
<circle cx="456.9" cy="71.7" r="1.4" fill="#ff0000" stroke="#ff0000" stroke-width="0.5"/>
<circle cx="458.9" cy="103.9" r="1.4" fill="#ff0000" stroke="#ff0000" stroke-width="0.5"/>
<circle cx="460.6" cy="119.2" r="1.4" fill="#ff0000" stroke="#ff0000" stroke-width="0.5"/>
<circle cx="461.9" cy="130.4" r="1.4" fill="#ff0000" stroke="#ff0000" stroke-width="0.5"/>
<circle cx="463.6" cy="145.9" r="1.4" fill="#ff0000" stroke="#ff0000" stroke-width="0.5"/>
<circle cx="465.6" cy="160.5" r="1.4" fill="#ff0000" stroke="#ff0000" stroke-width="0.5"/>
<circle cx="468.3" cy="170.9" r="1.4" fill="#ff0000" stroke="#ff0000" stroke-width="0.5"/>
<circle cx="469.4" cy="167.8" r="1.4" fill="#ff0000" stroke="#ff0000" stroke-width="0.5"/>
<circle cx="471.5" cy="173.5" r="1.4" fill="#ff0000" stroke="#ff0000" stroke-width="0.5"/>
<circle cx="474.4" cy="177" r="1.4" fill="#ff0000" stroke="#ff0000" stroke-width="0.5"/>
<circle cx="477.5" cy="181" r="1.4" fill="#ff0000" stroke="#ff0000" stroke-width="0.5"/>
<circle cx="481" cy="184.5" r="1.4" fill="#ff0000" stroke="#ff0000" stroke-width="0.5"/>
<circle cx="485" cy="187.5" r="1.4" fill="#ff0000" stroke="#ff0000" stroke-width="0.5"/>
<circle cx="489" cy="189.5" r="1.4" fill="#ff0000" stroke="#ff0000" stroke-width="0.5"/>
<circle cx="492.8" cy="190.6" r="1.4" fill="#ff0000" stroke="#ff0000" stroke-width="0.5"/>
<circle cx="497" cy="189.5" r="1.4" fill="#ff0000" stroke="#ff0000" stroke-width="0.5"/>
<circle cx="501" cy="188.3" r="1.4" fill="#ff0000" stroke="#ff0000" stroke-width="0.5"/>
<circle cx="505" cy="187.6" r="1.4" fill="#ff0000" stroke="#ff0000" stroke-width="0.5"/>
<circle cx="509" cy="187.4" r="1.4" fill="#ff0000" stroke="#ff0000" stroke-width="0.5"/>
<circle cx="513" cy="187.4" r="1.4" fill="#ff0000" stroke="#ff0000" stroke-width="0.5"/>
<circle cx="517" cy="187.6" r="1.4" fill="#ff0000" stroke="#ff0000" stroke-width="0.5"/>
<circle cx="521.5" cy="188.2" r="1.4" fill="#ff0000" stroke="#ff0000" stroke-width="0.5"/>
<circle cx="526" cy="188.8" r="1.4" fill="#ff0000" stroke="#ff0000" stroke-width="0.5"/>
<circle cx="531" cy="189.4" r="1.4" fill="#ff0000" stroke="#ff0000" stroke-width="0.5"/>
<circle cx="537" cy="190.4" r="1.4" fill="#ff0000" stroke="#ff0000" stroke-width="0.5"/>
<circle cx="543" cy="190.8" r="1.4" fill="#ff0000" stroke="#ff0000" stroke-width="0.5"/>
<circle cx="549" cy="191.2" r="1.4" fill="#ff0000" stroke="#ff0000" stroke-width="0.5"/>
<circle cx="555" cy="191.3" r="1.4" fill="#ff0000" stroke="#ff0000" stroke-width="0.5"/>
<circle cx="561" cy="191.5" r="1.4" fill="#ff0000" stroke="#ff0000" stroke-width="0.5"/>
<circle cx="567" cy="191.7" r="1.4" fill="#ff0000" stroke="#ff0000" stroke-width="0.5"/>
<circle cx="573" cy="191.9" r="1.4" fill="#ff0000" stroke="#ff0000" stroke-width="0.5"/>
<circle cx="580" cy="192.2" r="1.4" fill="#ff0000" stroke="#ff0000" stroke-width="0.5"/>
<circle cx="587" cy="192.6" r="1.4" fill="#ff0000" stroke="#ff0000" stroke-width="0.5"/>
<circle cx="594.5" cy="192.8" r="1.4" fill="#ff0000" stroke="#ff0000" stroke-width="0.5"/>
<circle cx="601.9" cy="193" r="1.4" fill="#ff0000" stroke="#ff0000" stroke-width="0.5"/>
<circle cx="610.2" cy="193" r="1.4" fill="#ff0000" stroke="#ff0000" stroke-width="0.5"/>
<circle cx="618.9" cy="193" r="1.4" fill="#ff0000" stroke="#ff0000" stroke-width="0.5"/>
<circle cx="627.8" cy="192.8" r="1.4" fill="#ff0000" stroke="#ff0000" stroke-width="0.5"/>
<circle cx="637.3" cy="192.9" r="1.4" fill="#ff0000" stroke="#ff0000" stroke-width="0.5"/>
<circle cx="647" cy="193.2" r="1.4" fill="#ff0000" stroke="#ff0000" stroke-width="0.5"/>
<polygon points="431.9,191.6 429.5,195.92 434.3,195.92" fill="#0000ff" stroke="#0000ff" stroke-width="0.6"/>
<polygon points="434.5,191.6 432.1,195.92 436.9,195.92" fill="#0000ff" stroke="#0000ff" stroke-width="0.6"/>
<polygon points="437.3,191.6 434.9,195.92 439.7,195.92" fill="#0000ff" stroke="#0000ff" stroke-width="0.6"/>
<polygon points="440.2,191.6 437.8,195.92 442.6,195.92" fill="#0000ff" stroke="#0000ff" stroke-width="0.6"/>
<polygon points="442.2,185.2 439.8,189.52 444.6,189.52" fill="#0000ff" stroke="#0000ff" stroke-width="0.6"/>
<polygon points="443,168.5 440.6,172.82 445.4,172.82" fill="#0000ff" stroke="#0000ff" stroke-width="0.6"/>
<polygon points="444.6,161.2 442.2,165.52 447,165.52" fill="#0000ff" stroke="#0000ff" stroke-width="0.6"/>
<polygon points="447.3,163.4 444.9,167.72 449.7,167.72" fill="#0000ff" stroke="#0000ff" stroke-width="0.6"/>
<polygon points="449.4,149.1 447,153.42 451.8,153.42" fill="#0000ff" stroke="#0000ff" stroke-width="0.6"/>
<polygon points="450.2,143.8 447.8,148.12 452.6,148.12" fill="#0000ff" stroke="#0000ff" stroke-width="0.6"/>
<polygon points="451,151.6 448.6,155.92 453.4,155.92" fill="#0000ff" stroke="#0000ff" stroke-width="0.6"/>
<polygon points="452.5,158.2 450.1,162.52 454.9,162.52" fill="#0000ff" stroke="#0000ff" stroke-width="0.6"/>
<polygon points="453.5,163.4 451.1,167.72 455.9,167.72" fill="#0000ff" stroke="#0000ff" stroke-width="0.6"/>
<polygon points="455.2,157 452.8,161.32 457.6,161.32" fill="#0000ff" stroke="#0000ff" stroke-width="0.6"/>
<polygon points="456.9,159.3 454.5,163.62 459.3,163.62" fill="#0000ff" stroke="#0000ff" stroke-width="0.6"/>
<polygon points="458.6,161.8 456.2,166.12 461,166.12" fill="#0000ff" stroke="#0000ff" stroke-width="0.6"/>
<polygon points="460.2,165.1 457.8,169.42 462.6,169.42" fill="#0000ff" stroke="#0000ff" stroke-width="0.6"/>
<polygon points="461.9,167.4 459.5,171.72 464.3,171.72" fill="#0000ff" stroke="#0000ff" stroke-width="0.6"/>
<polygon points="463.6,169.3 461.2,173.62 466,173.62" fill="#0000ff" stroke="#0000ff" stroke-width="0.6"/>
<polygon points="465.6,172.2 463.2,176.52 468,176.52" fill="#0000ff" stroke="#0000ff" stroke-width="0.6"/>
<polygon points="467.8,175.1 465.4,179.42 470.2,179.42" fill="#0000ff" stroke="#0000ff" stroke-width="0.6"/>
<polygon points="469.8,176.9 467.4,181.22 472.2,181.22" fill="#0000ff" stroke="#0000ff" stroke-width="0.6"/>
<polygon points="471.9,178.5 469.5,182.82 474.3,182.82" fill="#0000ff" stroke="#0000ff" stroke-width="0.6"/>
<polygon points="475.3,180.1 472.9,184.42 477.7,184.42" fill="#0000ff" stroke="#0000ff" stroke-width="0.6"/>
<polygon points="478.6,182.6 476.2,186.92 481,186.92" fill="#0000ff" stroke="#0000ff" stroke-width="0.6"/>
<polygon points="481,184.1 478.6,188.42 483.4,188.42" fill="#0000ff" stroke="#0000ff" stroke-width="0.6"/>
<polygon points="483.6,185.2 481.2,189.52 486,189.52" fill="#0000ff" stroke="#0000ff" stroke-width="0.6"/>
<polygon points="487.8,185.2 485.4,189.52 490.2,189.52" fill="#0000ff" stroke="#0000ff" stroke-width="0.6"/>
<polygon points="492,184.3 489.6,188.62 494.4,188.62" fill="#0000ff" stroke="#0000ff" stroke-width="0.6"/>
<polygon points="496.1,187.6 493.7,191.92 498.5,191.92" fill="#0000ff" stroke="#0000ff" stroke-width="0.6"/>
<polygon points="500.3,186.8 497.9,191.12 502.7,191.12" fill="#0000ff" stroke="#0000ff" stroke-width="0.6"/>
<polygon points="504.5,187.3 502.1,191.62 506.9,191.62" fill="#0000ff" stroke="#0000ff" stroke-width="0.6"/>
<polygon points="508.7,188.3 506.3,192.62 511.1,192.62" fill="#0000ff" stroke="#0000ff" stroke-width="0.6"/>
<polygon points="513,188.3 510.6,192.62 515.4,192.62" fill="#0000ff" stroke="#0000ff" stroke-width="0.6"/>
<polygon points="517,188.3 514.6,192.62 519.4,192.62" fill="#0000ff" stroke="#0000ff" stroke-width="0.6"/>
<polygon points="521,188.1 518.6,192.42 523.4,192.42" fill="#0000ff" stroke="#0000ff" stroke-width="0.6"/>
<polygon points="525,188.1 522.6,192.42 527.4,192.42" fill="#0000ff" stroke="#0000ff" stroke-width="0.6"/>
<polygon points="529.5,188.3 527.1,192.62 531.9,192.62" fill="#0000ff" stroke="#0000ff" stroke-width="0.6"/>
<polygon points="534,188.8 531.6,193.12 536.4,193.12" fill="#0000ff" stroke="#0000ff" stroke-width="0.6"/>
<polygon points="539,189 536.6,193.32 541.4,193.32" fill="#0000ff" stroke="#0000ff" stroke-width="0.6"/>
<polygon points="544,188.8 541.6,193.12 546.4,193.12" fill="#0000ff" stroke="#0000ff" stroke-width="0.6"/>
<polygon points="549.5,188.8 547.1,193.12 551.9,193.12" fill="#0000ff" stroke="#0000ff" stroke-width="0.6"/>
<polygon points="555,188.4 552.6,192.72 557.4,192.72" fill="#0000ff" stroke="#0000ff" stroke-width="0.6"/>
<polygon points="561,188.3 558.6,192.62 563.4,192.62" fill="#0000ff" stroke="#0000ff" stroke-width="0.6"/>
<polygon points="567,188.3 564.6,192.62 569.4,192.62" fill="#0000ff" stroke="#0000ff" stroke-width="0.6"/>
<polygon points="573,188.1 570.6,192.42 575.4,192.42" fill="#0000ff" stroke="#0000ff" stroke-width="0.6"/>
<polygon points="580,188.3 577.6,192.62 582.4,192.62" fill="#0000ff" stroke="#0000ff" stroke-width="0.6"/>
</g>
<rect x="517.5" y="26.2" width="121.1" height="60.9" fill="#fff" stroke="#000" stroke-width="1"/>
<line x1="524.2" y1="38.1" x2="541.7" y2="38.1" stroke="#000" stroke-width="1" stroke-dasharray="5.5 6.5"/>
<rect x="531.8" y="36.9" width="2.4" height="2.4" fill="#000" stroke="#000" stroke-width="0.6"/>
<text x="544.8" y="41.1" font-size="12.3" fill="#1a1a1a" textLength="78.8" lengthAdjust="spacing">PS<tspan dy="3.1">60</tspan><tspan dy="-3.1">SiCN</tspan><tspan dy="3.1">900</tspan></text>
<line x1="524.2" y1="57" x2="541.7" y2="57" stroke="#ff0000" stroke-width="1" stroke-dasharray="5.5 6.5"/>
<circle cx="533" cy="57" r="1.4" fill="#ff0000" stroke="#ff0000" stroke-width="0.6"/>
<text x="544.8" y="59.3" font-size="12.3" fill="#1a1a1a" textLength="87.2" lengthAdjust="spacing">PS<tspan dy="3.1">60</tspan><tspan dy="-3.1">SiCN</tspan><tspan dy="3.1">1000</tspan></text>
<line x1="524.2" y1="76" x2="541.7" y2="76" stroke="#0000ff" stroke-width="1" stroke-dasharray="5.5 6.5"/>
<polygon points="533,73.9 531.1,77.32 534.9,77.32" fill="#0000ff" stroke="#0000ff" stroke-width="0.6"/>
<text x="544.8" y="78.2" font-size="12.3" fill="#1a1a1a" textLength="87.2" lengthAdjust="spacing">PS<tspan dy="3.1">60</tspan><tspan dy="-3.1">SiCN</tspan><tspan dy="3.1">1100</tspan></text>
<rect x="693.6" y="6.3" width="327.2" height="229.45" fill="#fff" stroke="#000" stroke-width="1.7"/>
<rect x="693.6" y="206.7" width="27.7" height="29.05" fill="#fff" stroke="#000" stroke-width="1.5"/>
<text x="707.5" y="227.4" font-size="17.4" text-anchor="middle" font-weight="bold" fill="#111" >C</text>
<line x1="758.5" y1="20" x2="758.5" y2="188.2" stroke="#000" stroke-width="1" />
<line x1="758.5" y1="188.2" x2="987.1" y2="188.2" stroke="#000" stroke-width="1" />
<line x1="755" y1="188.2" x2="758.5" y2="188.2" stroke="#000" stroke-width="1" />
<text x="752.6" y="190" font-size="12.6" text-anchor="end" font-weight="normal" fill="#1a1a1a" >50</text>
<line x1="756.3" y1="171.38" x2="758.5" y2="171.38" stroke="#000" stroke-width="1" />
<line x1="755" y1="154.56" x2="758.5" y2="154.56" stroke="#000" stroke-width="1" />
<text x="752.6" y="156.7" font-size="12.6" text-anchor="end" font-weight="normal" fill="#1a1a1a" >60</text>
<line x1="756.3" y1="137.74" x2="758.5" y2="137.74" stroke="#000" stroke-width="1" />
<line x1="755" y1="120.92" x2="758.5" y2="120.92" stroke="#000" stroke-width="1" />
<text x="752.6" y="123.4" font-size="12.6" text-anchor="end" font-weight="normal" fill="#1a1a1a" >70</text>
<line x1="756.3" y1="104.1" x2="758.5" y2="104.1" stroke="#000" stroke-width="1" />
<line x1="755" y1="87.28" x2="758.5" y2="87.28" stroke="#000" stroke-width="1" />
<text x="752.6" y="90.1" font-size="12.6" text-anchor="end" font-weight="normal" fill="#1a1a1a" >80</text>
<line x1="756.3" y1="70.46" x2="758.5" y2="70.46" stroke="#000" stroke-width="1" />
<line x1="755" y1="53.64" x2="758.5" y2="53.64" stroke="#000" stroke-width="1" />
<text x="752.6" y="56.8" font-size="12.6" text-anchor="end" font-weight="normal" fill="#1a1a1a" >90</text>
<line x1="756.3" y1="36.82" x2="758.5" y2="36.82" stroke="#000" stroke-width="1" />
<line x1="755" y1="20" x2="758.5" y2="20" stroke="#000" stroke-width="1" />
<text x="752.6" y="23.5" font-size="12.6" text-anchor="end" font-weight="normal" fill="#1a1a1a" >100</text>
<line x1="980.8" y1="188.2" x2="980.8" y2="192.2" stroke="#000" stroke-width="1" />
<text x="980.4" y="203" font-size="12.6" text-anchor="middle" font-weight="normal" fill="#1a1a1a" >750</text>
<line x1="955.1" y1="188.2" x2="955.1" y2="190.4" stroke="#000" stroke-width="1" />
<line x1="929.4" y1="188.2" x2="929.4" y2="192.2" stroke="#000" stroke-width="1" />
<text x="929" y="203" font-size="12.6" text-anchor="middle" font-weight="normal" fill="#1a1a1a" >1500</text>
<line x1="903.7" y1="188.2" x2="903.7" y2="190.4" stroke="#000" stroke-width="1" />
<line x1="878" y1="188.2" x2="878" y2="192.2" stroke="#000" stroke-width="1" />
<text x="877.6" y="203" font-size="12.6" text-anchor="middle" font-weight="normal" fill="#1a1a1a" >2250</text>
<line x1="852.3" y1="188.2" x2="852.3" y2="190.4" stroke="#000" stroke-width="1" />
<line x1="826.6" y1="188.2" x2="826.6" y2="192.2" stroke="#000" stroke-width="1" />
<text x="826.2" y="203" font-size="12.6" text-anchor="middle" font-weight="normal" fill="#1a1a1a" >3000</text>
<line x1="800.9" y1="188.2" x2="800.9" y2="190.4" stroke="#000" stroke-width="1" />
<line x1="775.2" y1="188.2" x2="775.2" y2="192.2" stroke="#000" stroke-width="1" />
<text x="774.8" y="203" font-size="12.6" text-anchor="middle" font-weight="normal" fill="#1a1a1a" >3750</text>
<text x="814.1" y="225.9" font-size="12.9" font-weight="bold" fill="#111" textLength="82.6" lengthAdjust="spacing">wave number</text>
<text x="899.6" y="226.4" font-size="7.2" fill="#222">[</text>
<text x="901.8" y="225.9" font-size="12" font-weight="bold" fill="#111">cm</text>
<text x="920.9" y="220.7" font-size="7" font-weight="bold" fill="#333">-</text>
<text x="923.4" y="222.2" font-size="10.8" font-weight="bold" fill="#111">1</text>
<text x="929.9" y="226.4" font-size="7.2" fill="#222">]</text>
<text transform="translate(729.2,156.2) rotate(-90)" font-size="13.2" font-weight="bold" fill="#111" textLength="105.8" lengthAdjust="spacing">transmission [%]</text>
<polyline points="759.1,32.26 759.61,29.58 760.21,31.26 760.82,29.07 761.37,35.67 762.01,27.83 762.51,33.76 763.05,31.53 763.74,32.88 764.4,31.43 764.91,32.81 765.57,31.27 766.22,33.38 766.91,30.3 767.55,35.86 768.22,28.27 768.75,35.21 769.28,30.2 769.94,33.31 770.66,28.25 771.3,33.23 772.01,29.78 772.67,34.6 773.32,26.43 773.89,35.81 774.39,30.99 774.92,34.67 775.44,31.42 776.16,32.61 776.79,26.96 777.5,33.28 778.08,27.29 778.62,33.39 779.17,31.69 779.73,33.24 780.32,28.73 780.99,34.15 781.65,30.1 782.34,37.51 782.93,30.76 783.59,31.84 784.13,31.1 784.64,31.45 785.16,30.63 785.88,32.12 786.44,30.67 786.96,34.51 787.57,30.69 788.1,32.13 788.8,31.35 789.53,32.6 790.16,31.68 790.9,35.1 791.46,31.3 792.15,34.44 792.72,30.09 793.46,35.23 794.16,31.07 794.79,32.84 795.29,31.84 795.96,33.75 796.69,28.95 797.27,32.81 797.82,30.48 798.54,33.36 799.19,30.85 799.85,35.16 800.54,31.18 801.23,33.48 801.97,31.28 802.7,32.78 803.22,30.61 803.92,33.58 804.66,31.52 805.29,32.65 806.03,31.64 806.76,34.28 807.46,31.96 808.02,32.56 808.59,31.56 809.31,32.48 809.95,30.88 810.67,32.52 811.3,31.73 811.84,33.01 812.38,29.87 813.01,32.26 813.64,30.82 814.28,32.04 814.97,30.94 815.65,32.56 816.3,30.81 816.97,32.04 817.58,28.74 818.3,32.75 818.93,29.06 819.46,32.24 819.97,31.8 820.64,34.86 821.17,30.1 821.7,35.23 822.25,31.5 822.87,35.44 823.41,31.97 823.99,32.76 824.66,32.19 825.27,32.36 825.92,31.5 826.66,34.61 827.18,31.7 827.87,32.49 828.47,29.39 829.03,33.53 829.67,31.28 830.18,32.93 830.69,29.3 831.39,33.3 831.9,30.95 832.48,34.01 833.04,31.64 833.6,32.12 834.1,31.6 834.68,32.89 835.3,31.78 835.8,32.53 836.47,31.57 837.09,33.4 837.79,31.76 838.49,32.79 839.16,31.01 839.86,34.35 840.46,31.35 840.98,32.98 841.54,31.31 842.25,34.17 842.81,31.15 843.42,31.84 843.98,28.83 844.62,33.33 845.19,31.39 845.78,32.6 846.33,31.44 846.89,32.36 847.39,32.06 847.95,32.96 848.63,29.98 849.34,32.82 850.08,30.95 850.74,33.68 851.46,30.34 852.15,32.95 852.77,30.18 853.48,34.98 854.14,31.97 854.64,33 855.17,31.9 855.82,33.91 856.44,31.61 857.12,32.68 857.78,31.37 858.34,32.29 859.01,31.2 859.75,32.65 860.37,30.8 861.01,32.93 861.55,31.47 862.12,33.01 862.63,31.39 863.3,32.81 863.92,31.71 864.45,32.61 865.18,30.98 865.79,33.15 866.4,31.17 867.13,30.98 867.66,28.84 868.19,28.83 868.91,26.5 869.63,25.44 870.12,23.8 870.7,22.8 871.27,22.21 871.95,24.55 872.68,24.87 873.25,27.22 873.99,28.37 874.59,30.15 875.11,29.38 875.84,31.77 876.46,31.3 877.2,36.05 877.85,29.03 878.48,34.43 879.16,30.84 879.81,34.07 880.54,33.04 881.12,35.54 881.86,30.78 882.43,33.79 882.97,32.3 883.69,33.43 884.41,30.87 884.94,32.87 885.52,32.11 886.08,35.34 886.76,31.56 887.39,32.94 887.9,29.89 888.43,34.88 889.14,31.5 889.69,32.65 890.43,28.27 890.93,33.63 891.65,31.26 892.14,34.78 892.84,28.83 893.4,33 894.03,29.64 894.7,36.17 895.31,32.12 896,35.2 896.66,32.33 897.22,35.92 897.74,32.39 898.38,33.18 899.03,32.36 899.64,34.08 900.35,31.97 900.91,34.04 901.48,32.25 902.14,32.69 902.8,31.71 903.31,32.65 903.97,31.44 904.65,32.7 905.39,31.23 905.94,33.15 906.51,31.51 907.06,32.36 907.72,31.46 908.31,33.04 908.84,32.01 909.43,33.76 910.11,30.35 910.69,32.95 911.37,31.32 911.96,32.38 912.5,32 913.08,32.73 913.82,31.83 914.52,32.6 915.03,31.66 915.75,32.27 916.47,32.1 917.16,32.89 917.67,31.7 918.23,34.11 918.81,31.81 919.46,33.94 920.03,32.86 920.72,34.91 921.45,33.3 922.06,35.18 922.65,33.34 923.27,34.32 923.97,32.32 924.65,34.38 925.23,33.29 925.74,34.67 926.3,34.05 926.93,34.78 927.65,33.62 928.17,34.11 928.84,33.73 929.44,34.75 930.12,32.78 930.65,34.13 931.28,32.98 931.83,33.8 932.36,33.24 932.94,34.36 933.56,33.05 934.22,34.13 934.83,32.7 935.55,33.78 936.08,33.14 936.72,34.11 937.43,33.4 938.12,33.99 938.76,33.19 939.35,33.52 939.91,32.5 940.46,33.46 941.12,33.41 941.67,33.99 942.18,33.64 942.81,34.16 943.35,33.64 943.91,34.73 944.49,33.9 945.09,35.31 945.67,33.79 946.22,34.93 946.82,34.21 948,36 949.5,41 953,52 957,65 960.5,76 963,81.5 965.5,84.3 967.5,85 969,84.3 970.5,82.8 972,81.5 973.5,81 975,80 976.6,78 979,75.5 982,72 984.5,69.5 985.8,68.2 986.5,70 987.1,75" fill="none" stroke="#000" stroke-width="1.0" stroke-linejoin="round" />
<polyline points="759.1,49.08 759.62,46.44 760.24,47.3 760.86,46.08 761.48,49.14 762.03,45.62 762.76,47.14 763.49,44.65 764.14,46.67 764.83,45.1 765.54,45.83 766.09,43.42 766.68,44.6 767.35,41.88 767.99,45.38 768.69,43.31 769.33,45.3 769.93,42.5 770.59,44.98 771.09,42.41 771.64,48.55 772.25,43.24 772.77,44.31 773.29,42.81 773.8,45.5 774.48,42.47 774.99,45.65 775.72,42.08 776.46,49.59 777.01,42.93 777.74,47.14 778.43,42.9 779.01,46.45 779.73,41.23 780.26,47.87 780.81,42.94 781.39,43.67 781.92,37.85 782.64,45.71 783.16,38.94 783.75,44.84 784.39,40.99 785.13,44.53 785.83,40.08 786.46,45.39 787.07,41.94 787.58,44.61 788.23,42.37 788.89,44.14 789.4,43.43 790,46.03 790.53,42.26 791.03,44.18 791.55,43.67 792.19,45.16 792.84,43.86 793.57,45.04 794.09,42.23 794.78,45.25 795.28,43.75 795.86,45.34 796.59,43.37 797.31,44.36 797.91,43.73 798.6,44.25 799.33,43.9 799.98,46.5 800.67,44.21 801.24,45.51 801.93,43.97 802.64,45.4 803.32,44.27 803.84,45 804.42,42.78 805.13,45.3 805.76,43.09 806.39,45.79 807.12,43.31 807.62,44.79 808.3,42.3 808.88,45.27 809.43,42.31 810.1,46.18 810.71,42.28 811.42,45.69 812.06,43.75 812.71,44.99 813.24,43.8 813.97,44.23 814.47,42.91 815.12,45.76 815.64,43.43 816.34,46.14 816.85,42.19 817.58,44.61 818.1,43.59 818.8,46.39 819.45,44.37 819.97,45.4 820.55,44.24 821.11,45.92 821.69,43.26 822.31,45.32 822.82,44.09 823.51,45.86 824.14,43.3 824.65,45.26 825.15,43.35 825.89,44.63 826.51,43.79 827.13,45.87 827.69,43.61 828.24,45.07 828.76,43.76 829.45,46.15 830.1,43.9 830.7,45.07 831.41,44.17 831.97,45.15 832.56,43.58 833.17,46.07 833.86,43.9 834.43,45.64 835.09,43.82 835.7,45.16 836.23,42.83 836.78,44.48 837.45,43.3 837.99,44.23 838.61,43.59 839.15,45.93 839.68,42.79 840.27,45.86 840.94,43.19 841.6,43.84 842.19,43.58 842.88,44.39 843.54,43.3 844.18,45.22 844.9,43.34 845.58,44.21 846.26,41.7 846.93,45.88 847.58,43.43 848.24,44.13 848.93,42.19 849.48,44.56 850.13,42.72 850.86,45.34 851.55,43.73 852.29,44.15 852.82,41.95 853.45,43.92 854.08,42.92 854.73,44.21 855.33,42.49 856,44.71 856.52,42.37 857.03,43.58 857.53,42.86 858.2,43.71 858.75,41.48 859.38,44.6 859.97,43.15 860.66,45.38 861.27,42.8 862.01,44.66 862.71,42.47 863.28,43.72 863.98,41.78 864.54,43.55 865.14,42.92 865.82,43.49 866.39,42.69 867.04,43.77 867.77,42.3 868.47,45.11 869,40.88 869.5,43.73 870.16,42.42 870.69,43.86 871.27,41.5 871.97,43.74 872.61,40.72 873.33,44.76 873.88,42.25 874.56,44.53 875.19,42.84 875.72,44.39 876.33,43.24 876.95,46.52 877.45,42.21 878.08,46.68 878.67,40.75 879.19,46.37 879.69,40.07 880.42,45.4 881.04,40.17 881.55,46.2 882.13,41.43 882.74,45.63 883.29,41.91 883.92,43.92 884.62,41.66 885.19,45.05 885.84,40.74 886.42,42.45 887.07,40.41 887.75,43.04 888.26,41 888.8,43.13 889.46,38.26 890.11,44.99 890.77,39.04 891.32,43.3 892.01,41.94 892.51,45.7 893.17,39.66 893.86,42.95 894.43,41.03 895.04,44.74 895.55,40.46 896.07,42.62 896.8,40.36 897.39,44.14 898.13,40.27 898.65,42.23 899.18,41.14 899.85,42.1 900.37,40.55 900.87,41.78 901.54,41 902.23,42.74 902.91,40.32 903.58,42.42 904.14,39.33 904.64,41.95 905.34,41.1 906.01,42.23 906.63,41.22 907.27,42.61 907.8,40.76 908.46,41.83 909.05,39.63 909.74,41.6 910.25,39.18 910.95,41.16 911.69,40.06 912.26,41.82 912.85,39.97 913.57,41.08 914.07,40.2 914.71,42.14 915.21,38.83 915.93,41.09 916.63,39.07 917.36,41.11 917.99,40.24 918.67,41.61 919.32,40.41 919.86,42.02 920.56,40.67 921.25,41.74 921.89,39.47 922.52,41.73 923.06,41.2 923.73,41.81 924.33,41.11 924.83,42.3 925.36,40.42 925.89,41.84 926.52,41.4 927.26,41.91 927.89,40.64 928.5,42.74 929.19,40.91 929.7,41.64 930.22,41.45 930.93,42.52 931.65,41.56 932.24,42.35 932.8,40.71 933.54,42.13 934.14,41.05 934.89,41.85 935.45,40.8 936.17,42.05 936.86,40.38 937.6,41.55 938.28,40.12 938.85,42.46 939.37,41.19 939.9,41.68 940.46,40.69 940.95,41.74 941.46,40.78 942.19,42.49 942.72,40.9 943.44,42.36 944.05,40.24 944.67,41.42 945.22,40.47 945.85,41.77 946.41,40.9 946.98,41.7 948,41.5 950,43 952.5,52 955,66 957.4,80 959.9,93.4 963.2,120 966.5,136 969.9,150 973,162 975.5,168.5 977.9,172.5 980,168 982.5,161 985,154 987.4,149.2" fill="none" stroke="#ff0000" stroke-width="1.0" stroke-linejoin="round" />
<polyline points="759.1,47.49 759.82,45.7 760.43,47.44 760.98,45.28 761.72,48.88 762.29,46.73 762.97,49.99 763.47,46.61 764,50.84 764.62,47.72 765.35,48.77 765.88,45.01 766.55,48.43 767.07,46.27 767.63,48.45 768.3,46 768.85,50.57 769.44,46.49 770.14,51.83 770.85,47.25 771.57,52.49 772.14,45.6 772.72,49.09 773.37,48.26 773.97,49.81 774.65,43.46 775.22,50.37 775.9,46.32 776.64,50.26 777.26,47.77 778,49.84 778.52,45.92 779.03,51.58 779.57,48.46 780.21,52.5 780.73,42.79 781.24,48.28 781.86,46.67 782.45,47.78 783.16,46.61 783.84,50.06 784.57,46.36 785.28,49.01 786.01,46.19 786.56,49.2 787.3,43.46 788,50.69 788.62,43.19 789.18,52.6 789.77,47.56 790.37,50.2 790.9,43.32 791.63,53.55 792.35,47.15 793,52.55 793.57,45.24 794.22,50.19 794.82,47.19 795.39,50.19 796.03,47.31 796.6,49.57 797.13,48.19 797.7,49.12 798.25,47.92 798.96,49.18 799.62,45.96 800.23,49.16 800.84,47.69 801.39,49.38 802.03,48.45 802.74,49.29 803.36,46.49 803.93,50.15 804.44,47.32 804.95,49.43 805.63,48.19 806.36,49.57 806.94,45.64 807.59,51.78 808.22,44.47 808.9,50.73 809.57,46.36 810.28,49.53 810.93,44.96 811.56,50.47 812.28,46.62 812.88,50.38 813.45,46.77 814.04,49.91 814.75,46.56 815.29,48.17 815.93,46.72 816.66,50.5 817.36,46.81 817.96,50.21 818.47,47.91 819.19,50.47 819.94,48.35 820.6,50.03 821.25,46.68 821.91,49.99 822.5,48.13 823.14,52.56 823.75,45.87 824.5,49.2 825.2,48.1 825.93,49.94 826.46,44.72 827.16,52.73 827.76,48.25 828.38,49.54 828.92,47.49 829.51,52.66 830.01,45.84 830.58,49.68 831.16,47.08 831.82,49.02 832.45,46.37 833.08,50.49 833.68,48.67 834.36,49.52 834.9,46.36 835.55,50.74 836.05,48.06 836.72,49.99 837.28,47.28 837.92,49.68 838.51,47.05 839.15,50.27 839.8,48.06 840.53,50.04 841.25,47.34 841.89,50.49 842.63,48.63 843.3,49.9 844.01,46.79 844.57,50.2 845.11,48.28 845.75,50.3 846.34,49.25 846.87,51.43 847.42,49.63 847.98,51.87 848.56,48.17 849.08,52.6 849.6,47.62 850.3,50.86 850.98,47.93 851.52,52.09 852.08,49.61 852.75,52.6 853.39,49.39 854.03,52.03 854.56,48.73 855.12,50.55 855.78,48.85 856.38,49.73 857.08,47.87 857.61,50.36 858.23,49.38 858.8,50.31 859.47,49.74 860.19,52.81 860.9,50.2 861.41,52.83 861.99,48.68 862.66,52.13 863.24,49.79 863.77,53.28 864.44,50.42 864.98,50.93 865.57,50.51 866.22,52.21 866.86,49.98 867.46,51.73 867.96,48.37 868.53,52.21 869.17,50.83 869.7,51.91 870.42,50.05 871.09,52.75 871.79,50.53 872.52,52.9 873.19,45.99 873.84,52.59 874.51,50.6 875.23,55.05 875.74,47.53 876.3,57.04 876.96,51.39 877.47,53.82 878.01,51.8 878.68,54.17 879.24,50.89 879.97,52.91 880.68,51.05 881.26,53.4 881.95,48.24 882.59,55.25 883.29,50.69 883.88,51.87 884.44,48.07 885.05,51.64 885.66,50.07 886.18,53.48 886.86,48.26 887.6,52.39 888.22,49.8 888.85,53.55 889.5,46.71 890.16,52.48 890.69,49.51 891.4,53.29 892.05,47.28 892.59,58.13 893.27,52.07 893.97,53.89 894.6,49.07 895.16,52.92 895.81,46.98 896.53,54.35 897.15,51.35 897.79,54.56 898.32,47.92 898.84,52.33 899.39,51.49 900.09,54.47 900.69,51.02 901.32,52.9 901.92,50.58 902.64,52.73 903.25,51.91 903.79,52.65 904.4,50.14 905.11,54.82 905.76,51.71 906.43,53.15 907.06,51.66 907.72,52.95 908.44,52.48 909.1,53.03 909.76,52.01 910.36,52.67 910.95,51.25 911.67,50.26 912.38,46.7 913.01,45.18 913.64,43.98 914.16,45.84 914.68,46.75 915.29,50.29 915.96,50.44 916.7,52.77 917.4,51.95 918.14,54.27 918.67,51.81 919.22,53.01 919.86,52.33 920.54,54.16 921.19,51.76 921.91,53.45 922.59,51.21 923.26,53.48 923.84,50.7 924.52,52.85 925.04,51.21 925.56,54.55 926.12,52.37 926.83,53 927.33,51.5 927.87,52.83 928.54,51.9 929.25,53.64 929.95,51.42 930.53,52.4 931.24,51.62 931.78,54.14 932.37,52.02 933.08,53.8 933.73,52.45 934.28,53.32 934.78,52.38 935.4,53.04 935.98,52.39 936.56,52.46 937.3,51.86 937.96,51.33 938.58,49.71 939.21,51.7 939.71,48.95 940.42,53.31 941.08,51.75 941.77,54.06 942.44,51.06 943.12,53.62 943.7,51.72 944.21,52.51 944.95,51.76 945.51,52.46 946.04,51.41 946.64,52.42 947.22,51.16 949.5,53 951.5,60 954,70 956.5,80 959,90 961.6,100 964.5,110.5 967.4,120 971,129 975,136.5 978.3,141.7 980.5,139.5 982.5,137 984,137.8 985.3,136.3 986.4,138.5 987.2,130.9 987.6,138.6" fill="none" stroke="#0000ff" stroke-width="1.0" stroke-linejoin="round" />
<rect x="765" y="123" width="119.8" height="56.8" fill="#fff" stroke="#000" stroke-width="1"/>
<line x1="770.9" y1="131.4" x2="789.6" y2="131.4" stroke="#000" stroke-width="1" />
<text x="793.8" y="135" font-size="12.3" fill="#1a1a1a" textLength="78.8" lengthAdjust="spacing">PS<tspan dy="3.1">60</tspan><tspan dy="-3.1">SiCN</tspan><tspan dy="3.1">900</tspan></text>
<line x1="770.9" y1="151.4" x2="789.6" y2="151.4" stroke="#ff0000" stroke-width="1" />
<text x="793.8" y="153.7" font-size="12.3" fill="#1a1a1a" textLength="87.2" lengthAdjust="spacing">PS<tspan dy="3.1">60</tspan><tspan dy="-3.1">SiCN</tspan><tspan dy="3.1">1000</tspan></text>
<line x1="770.9" y1="170" x2="789.6" y2="170" stroke="#0000ff" stroke-width="1" />
<text x="793.8" y="171.8" font-size="12.3" fill="#1a1a1a" textLength="87.2" lengthAdjust="spacing">PS<tspan dy="3.1">60</tspan><tspan dy="-3.1">SiCN</tspan><tspan dy="3.1">1100</tspan></text>
</svg>
</body></html>
